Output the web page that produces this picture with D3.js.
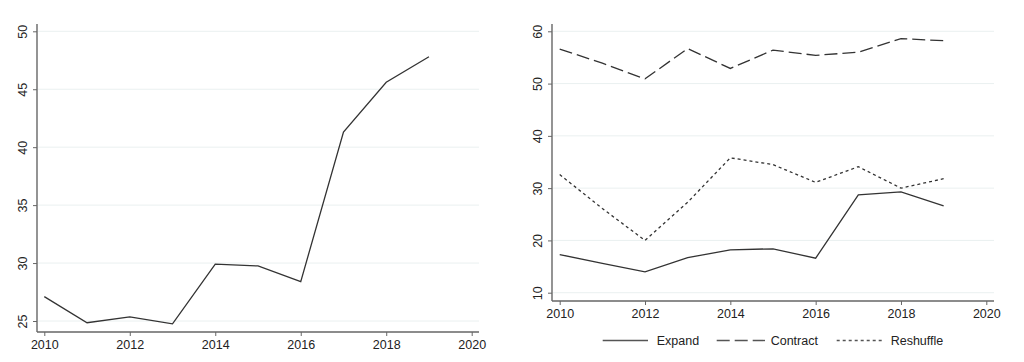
<!DOCTYPE html>
<html>
<head>
<meta charset="utf-8">
<script src="https://cdn.jsdelivr.net/npm/d3@7"></script>
<style>
  body { margin: 0; background: #fff; }
  text { font-family: "Liberation Sans", Arial, sans-serif; }
</style>
</head>
<body>
<div id="chart"></div>
<script>
// Data
var years = [2010, 2011, 2012, 2013, 2014, 2015, 2016, 2017, 2018, 2019];
var total = [27.1, 24.85, 25.35, 24.75, 29.9, 29.75, 28.4, 41.3, 45.6, 47.8];
var expand = [17.3, 15.6, 14.0, 16.7, 18.2, 18.4, 16.6, 28.7, 29.3, 26.6];
var contract = [56.6, 53.9, 50.9, 56.7, 52.9, 56.4, 55.4, 56.0, 58.6, 58.2];
var reshuffle = [32.6, 26.1, 20.0, 27.3, 35.8, 34.5, 31.1, 34.1, 30.0, 31.8];
var xTicks = [2010, 2012, 2014, 2016, 2018, 2020];
var yTicksLeft = [25, 30, 35, 40, 45, 50];
var yTicksRight = [10, 20, 30, 40, 50, 60];
var seriesNames = ["Expand", "Contract", "Reshuffle"];

var lineColor = "#333";
var axisColor = "#666";
var gridColor = "#eaf0f0";
var dashes = {"Expand": null, "Contract": "13,5", "Reshuffle": "3,3"};

var svg = d3.select("#chart").append("svg")
    .attr("width", 1024)
    .attr("height", 362);

// Panel builder: box = plot region edges, xr/yr = scale ranges
function panel(box, xr, yDomain, yr, yTicks) {
    var x = d3.scaleLinear().domain([2010, 2020]).range(xr);
    var y = d3.scaleLinear().domain(yDomain).range(yr);
    var g = svg.append("g");

    // gridlines
    g.selectAll(".grid").data(yTicks).enter().append("line")
        .attr("x1", box.left + 1).attr("x2", box.right)
        .attr("y1", function(d) { return y(d); })
        .attr("y2", function(d) { return y(d); })
        .attr("stroke", gridColor).attr("stroke-width", 1);

    // y axis
    var ya = g.append("g")
        .attr("transform", "translate(" + box.left + ",0)")
        .call(d3.axisLeft(y).tickValues(yTicks).tickSize(4).tickPadding(6));
    ya.select(".domain").remove();
    ya.selectAll("line").attr("stroke", axisColor);
    ya.selectAll("text")
        .attr("fill", "#222").attr("font-size", 12.5)
        .attr("x", 0).attr("y", 0).attr("dy", "0.35em")
        .attr("transform", "translate(-14,0) rotate(-90)")
        .attr("text-anchor", "middle");
    g.append("line")
        .attr("x1", box.left).attr("x2", box.left)
        .attr("y1", box.top).attr("y2", box.bottom)
        .attr("stroke", axisColor).attr("stroke-width", 1.4);

    // x axis
    var xa = g.append("g")
        .attr("transform", "translate(0," + box.bottom + ")")
        .call(d3.axisBottom(x).tickValues(xTicks).tickFormat(d3.format("d")).tickSize(4).tickPadding(4));
    xa.select(".domain").remove();
    xa.selectAll("line").attr("stroke", axisColor);
    xa.selectAll("text").attr("fill", "#222").attr("font-size", 12.5);
    g.append("line")
        .attr("x1", box.left).attr("x2", box.right)
        .attr("y1", box.bottom).attr("y2", box.bottom)
        .attr("stroke", axisColor).attr("stroke-width", 1.4);

    return {g: g, x: x, y: y};
}

function drawLine(p, values, dash) {
    var line = d3.line()
        .x(function(d, i) { return p.x(years[i]); })
        .y(function(d) { return p.y(d); });
    p.g.append("path")
        .datum(values)
        .attr("fill", "none")
        .attr("stroke", lineColor)
        .attr("stroke-width", 1.3)
        .attr("stroke-dasharray", dash)
        .attr("d", line);
}

// Left panel
var left = panel({left: 37, right: 479, top: 24, bottom: 332},
    [44.3, 471.7], [25, 50], [321, 31.3], yTicksLeft);
drawLine(left, total, null);

// Right panel
var right = panel({left: 552, right: 994, top: 24, bottom: 301},
    [559.7, 986.3], [10, 60], [292.7, 31.3], yTicksRight);
drawLine(right, expand, dashes.Expand);
drawLine(right, contract, dashes.Contract);
drawLine(right, reshuffle, dashes.Reshuffle);

// Legend
var legendPos = [
    {x1: 602.7, x2: 648, tx: 656.7},
    {x1: 716.7, x2: 765, tx: 770.7},
    {x1: 836.7, x2: 882, tx: 890.7}
];
var legend = svg.append("g").selectAll("g")
    .data(seriesNames)
    .enter().append("g");
legend.append("line")
    .attr("x1", function(d, i) { return legendPos[i].x1; })
    .attr("x2", function(d, i) { return legendPos[i].x2; })
    .attr("y1", 340.5).attr("y2", 340.5)
    .attr("stroke", "#555")
    .attr("stroke-width", 1.4)
    .attr("stroke-dasharray", function(d) { return dashes[d]; });
legend.append("text")
    .attr("x", function(d, i) { return legendPos[i].tx; })
    .attr("y", 340.5)
    .attr("dy", "0.35em")
    .attr("font-size", 12.5)
    .attr("fill", "#222")
    .text(function(d) { return d; });
</script>
</body>
</html>
